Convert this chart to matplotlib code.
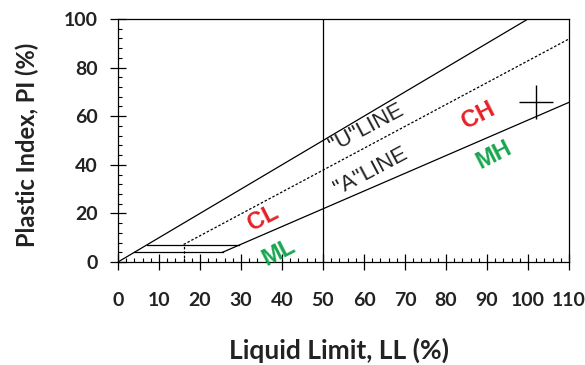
import matplotlib
matplotlib.use("Agg")
import matplotlib.pyplot as plt
from matplotlib.ticker import MultipleLocator

# boundary lines of the plasticity chart (LL, PI)
u_line_ll = [0, 100]
u_line_pi = [0, 100]
a_line_ll = [25.5, 110]
a_line_pi = [4, 65.7]
dash_line_ll = [16, 110]
dash_line_pi = [7.2, 91.8]
dash_drop_ll = [16, 16]
dash_drop_pi = [0, 7.2]
low_band_ll = [4, 25.5]
low_band_pi = [4, 4]
high_band_ll = [7, 29.6]
high_band_pi = [7, 7]
ll50_ll = [50, 50]
ll50_pi = [0, 100]

# sample point
sample_ll = [102]
sample_pi = [66]

# zone labels
zone_names = ["CL", "ML", "CH", "MH"]
zone_ll = [35.5, 39.2, 87.8, 91.7]
zone_pi = [18.1, 4.1, 60.5, 44.0]
zone_colors = ["#e52128", "#17a64e", "#e52128", "#17a64e"]

line_names = ['"U"LINE', '"A"LINE']
line_label_ll = [60.6, 61.6]
line_label_pi = [55.1, 37.4]

fig = plt.figure(figsize=(5.85, 3.65), dpi=100)
ax = fig.add_axes([118 / 585, 1 - 262 / 365, 451 / 585, 243 / 365])

lw = 0.9
ax.plot(u_line_ll, u_line_pi, color="black", lw=lw)
ax.plot(a_line_ll, a_line_pi, color="black", lw=lw)
ax.plot(dash_line_ll, dash_line_pi, color="black", lw=lw, ls=(0, (2, 1.5)))
ax.plot(dash_drop_ll, dash_drop_pi, color="black", lw=lw, ls=(0, (2, 1.5)))
ax.plot(low_band_ll, low_band_pi, color="black", lw=lw)
ax.plot(high_band_ll, high_band_pi, color="black", lw=lw)
ax.plot(ll50_ll, ll50_pi, color="black", lw=lw)
ax.plot(sample_ll, sample_pi, marker="+", color="black", markersize=24, mew=1.0, ls="none")

for name, x, y, c in zip(zone_names, zone_ll, zone_pi, zone_colors):
    ax.text(x, y, name, color=c, fontsize=17, fontweight="bold",
            family="Liberation Sans", rotation=27, ha="center", va="center")

for name, x, y in zip(line_names, line_label_ll, line_label_pi):
    ax.text(x, y, name, color="#222222", fontsize=16,
            family="Liberation Sans", rotation=28, ha="center", va="center")

ax.set_xlim(0, 110)
ax.set_ylim(0, 100)
ax.xaxis.set_major_locator(MultipleLocator(10))
ax.xaxis.set_minor_locator(MultipleLocator(2))
ax.yaxis.set_major_locator(MultipleLocator(20))
ax.yaxis.set_minor_locator(MultipleLocator(4))
ax.tick_params(which="major", direction="inout", length=11, width=0.9)
ax.tick_params(axis="x", which="major", pad=16)
ax.tick_params(axis="y", which="major", pad=9)
ax.tick_params(which="minor", direction="in", length=3, width=0.8)
for lab in ax.get_xticklabels() + ax.get_yticklabels():
    lab.set_fontfamily("Lato")
    lab.set_fontweight("bold")
    lab.set_fontsize(14)
    lab.set_color("#222222")
for sp in ax.spines.values():
    sp.set_linewidth(0.9)

ax.set_xlabel("Liquid Limit, LL (%)", family="Lato", fontweight="bold",
              fontsize=19, color="#222222")
ax.set_ylabel("Plastic Index, PI (%)", family="Lato", fontweight="bold",
              fontsize=17, color="#222222")
ax.xaxis.set_label_coords(0.49, -0.31)
ax.yaxis.set_label_coords(-0.175, 0.48)

fig.savefig("out.png", dpi=100)
